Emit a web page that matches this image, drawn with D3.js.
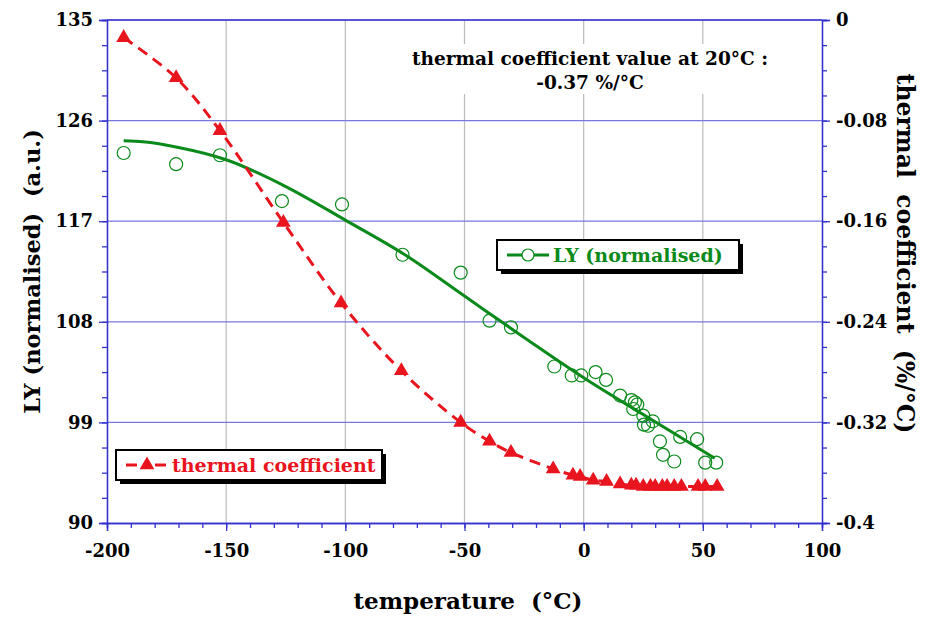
<!DOCTYPE html><html><head><meta charset="utf-8">
<script src="https://cdn.jsdelivr.net/npm/d3@7"></script>
<style>body{margin:0;background:#fff}text{font-family:"DejaVu Serif",serif;font-weight:bold;white-space:pre}</style>
</head><body><svg id="c" width="926" height="617"></svg><script>
const xTicks=[-200,-150,-100,-50,0,50,100];
const yLeftTicks=[90,99,108,117,126,135];
const yRightTicks=[-0.4,-0.32,-0.24,-0.16,-0.08,0];
const lyT=[-193,-171,-152.6,-126.6,-101.4,-76,-51.6,-39.5,-30.5,-12.3,-5,-1,5,9.4,15.3,20,20.8,21.5,22.5,25,25.3,27,29,32,33.3,38,40.5,47.6,51,55.6];
const lyV=[123.1,122.1,122.9,118.8,118.5,114.0,112.4,108.1,107.5,104.0,103.2,103.2,103.5,102.8,101.4,101.0,100.2,100.8,100.6,99.6,98.8,98.7,99.1,97.3,96.1,95.5,97.7,97.5,95.4,95.4];
const fitT=[-193,-185,-170,-150,-125,-100,-75,-50,-25,0,25,55];
const fitV=[124.2,124.1,123.6,122.5,120.1,117.1,114.0,110.3,106.6,103.0,99.7,95.8];
const tcT=[-193,-171,-152.6,-126,-101.8,-76.5,-51.6,-39.5,-30.5,-12.8,-4.5,-1.5,4,9.6,15.3,20,22,25,28,30,33,35,38,41,48,51,56];
const tcV=[-0.014,-0.046,-0.088,-0.161,-0.225,-0.279,-0.320,-0.335,-0.344,-0.357,-0.362,-0.363,-0.366,-0.367,-0.369,-0.370,-0.370,-0.371,-0.371,-0.371,-0.371,-0.371,-0.371,-0.371,-0.371,-0.371,-0.371];
const svg=d3.select("#c");
const L=107,R=822,T=20,B=523;
const x=d3.scaleLinear().domain([-200,100]).range([L,R]);
const yl=d3.scaleLinear().domain([90,135]).range([B,T]);
const yr=d3.scaleLinear().domain([-0.4,0]).range([B,T]);
const blue="#3333cc";
svg.append("g").selectAll("line").data(xTicks.slice(1,-1)).join("line").attr("x1",d=>x(d)).attr("x2",d=>x(d)).attr("y1",T).attr("y2",B).attr("stroke","#bbb").attr("stroke-width",1.2);
svg.append("g").selectAll("line").data(yLeftTicks.slice(1)).join("line").attr("x1",L).attr("x2",R).attr("y1",d=>yl(d)).attr("y2",d=>yl(d)).attr("stroke","#7777dd").attr("stroke-width",1.2);
svg.append("rect").attr("x",400).attr("y",44).attr("width",385).attr("height",50).attr("fill","#fff");
svg.append("text").attr("x",590).attr("y",65).attr("text-anchor","middle").attr("font-size",18.5).text("thermal coefficient value at 20°C :");
svg.append("text").attr("x",590).attr("y",89).attr("text-anchor","middle").attr("font-size",18.5).text("-0.37 %/°C");
const ax=svg.append("g").attr("transform",`translate(0,${B})`).call(d3.axisBottom(x).tickValues(d3.range(-200,101,10)).tickSize(5).tickFormat(""));
ax.append("g").call(d3.axisBottom(x).tickValues(xTicks).tickSize(8).tickFormat(d=>d));
const al=svg.append("g").attr("transform",`translate(${L},0)`).call(d3.axisLeft(yl).tickValues(d3.range(90,135.1,2.25)).tickSize(5).tickFormat(""));
al.append("g").call(d3.axisLeft(yl).tickValues(yLeftTicks).tickSize(8).tickFormat(d=>d));
const ar=svg.append("g").attr("transform",`translate(${R},0)`).call(d3.axisRight(yr).tickValues(d3.range(-0.4,0.001,0.02)).tickSize(5).tickFormat(""));
ar.append("g").call(d3.axisRight(yr).tickValues(yRightTicks).tickSize(8).tickFormat(d=>d===0?"0":String(+d.toFixed(2))));
svg.selectAll(".domain,.tick line").attr("stroke",blue).attr("stroke-width",1.3);
svg.selectAll(".tick text").attr("font-size",18).attr("fill","#000").style("font-family","DejaVu Serif").style("font-weight","bold");
ax.selectAll(".tick text").attr("dy","1.3em");
al.selectAll(".tick text").attr("x",-14);
ar.selectAll(".tick text").attr("x",14);
svg.append("line").attr("x1",L).attr("x2",R).attr("y1",T).attr("y2",T).attr("stroke",blue).attr("stroke-width",1.3);
svg.append("text").attr("x",468).attr("y",609).attr("text-anchor","middle").attr("font-size",23).text("temperature  (°C)");
svg.append("text").attr("transform",`translate(40,${(T+B)/2}) rotate(-90)`).attr("text-anchor","middle").attr("font-size",22.5).text("LY (normalised)  (a.u.)");
svg.append("text").attr("transform",`translate(897,${(T+B)/2-18}) rotate(90)`).attr("text-anchor","middle").attr("font-size",23.5).text("thermal  coefficient  (%/°C)");
const green="#0a8a1a",red="#e8141e";
svg.append("path").datum(fitT.map((t,i)=>[t,fitV[i]])).attr("d",d3.line().x(d=>x(d[0])).y(d=>yl(d[1])).curve(d3.curveMonotoneX)).attr("fill","none").attr("stroke",green).attr("stroke-width",3);
svg.append("g").selectAll("circle").data(lyT.map((t,i)=>[t,lyV[i]])).join("circle").attr("cx",d=>x(d[0])).attr("cy",d=>yl(d[1])).attr("r",6.5).attr("fill","none").attr("stroke",green).attr("stroke-width",1.2);
svg.append("path").datum(tcT.map((t,i)=>[t,tcV[i]])).attr("d",d3.line().x(d=>x(d[0])).y(d=>yr(d[1])).curve(d3.curveCatmullRom)).attr("fill","none").attr("stroke",red).attr("stroke-width",3).attr("stroke-dasharray","11,7");
const tri=d3.symbol().type(d3.symbolTriangle).size(95);
svg.append("g").selectAll("path").data(tcT.map((t,i)=>[t,tcV[i]])).join("path").attr("d",tri).attr("transform",d=>`translate(${x(d[0])},${yr(d[1])})`).attr("fill",red);
function legend(x0,y0,w,col,label,dash,marker){
 svg.append("rect").attr("x",x0+4).attr("y",y0+4).attr("width",w).attr("height",30).attr("fill","#000");
 svg.append("rect").attr("x",x0).attr("y",y0).attr("width",w).attr("height",30).attr("fill","#fff").attr("stroke","#000").attr("stroke-width",2);
 svg.append("line").attr("x1",x0+10).attr("x2",x0+52).attr("y1",y0+15).attr("y2",y0+15).attr("stroke",col).attr("stroke-width",3).attr("stroke-dasharray",dash);
 if(marker==="c")svg.append("circle").attr("cx",x0+31).attr("cy",y0+15).attr("r",6).attr("fill","#fff").attr("stroke",col).attr("stroke-width",1.2);
 else svg.append("path").attr("d",tri).attr("transform",`translate(${x0+31},${y0+15})`).attr("fill",col);
 svg.append("text").attr("x",x0+56).attr("y",y0+22).attr("font-size",19).attr("fill",col).text(label);
}
legend(497,240,242,green,"LY (normalised)",null,"c");
legend(116,450,266,red,"thermal coefficient","11,18","t");
</script></body></html>
